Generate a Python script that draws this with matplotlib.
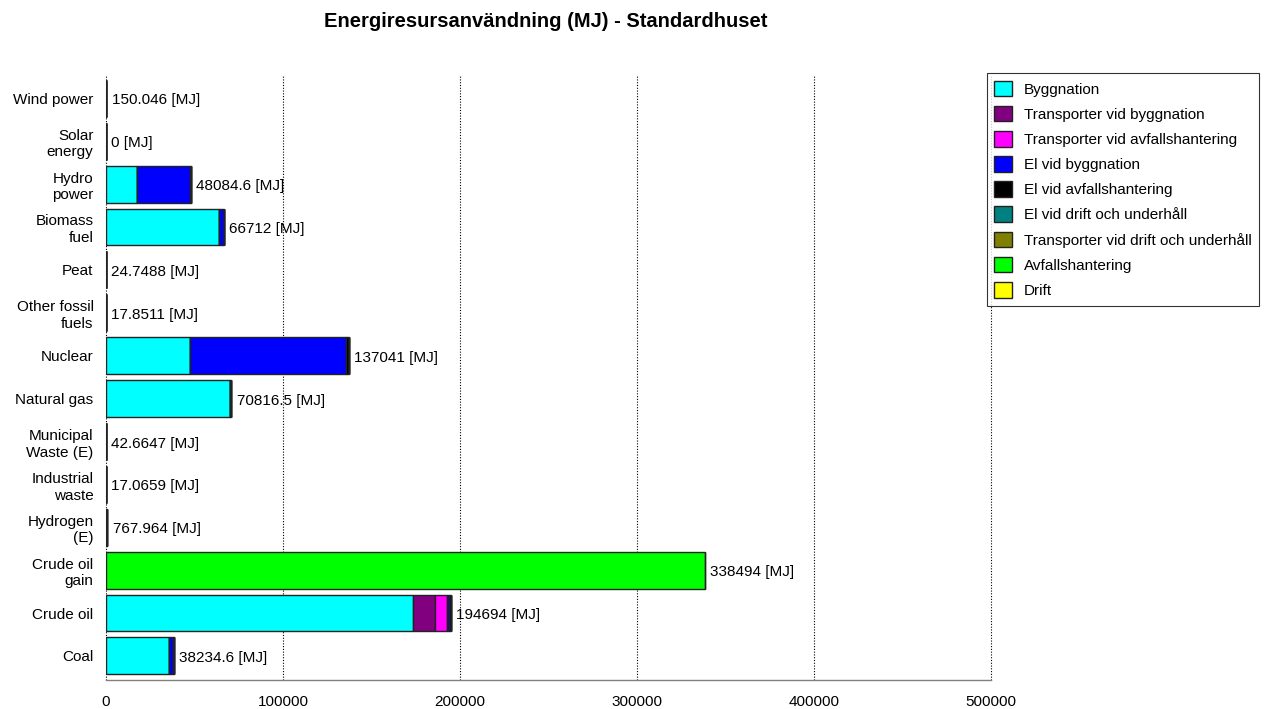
import numpy as np
import matplotlib.pyplot as plt

plt.rcParams['font.family'] = ['Liberation Sans', 'DejaVu Sans']

# Kategorier (uppifrån och ned)
categories = ['Wind power', 'Solar\nenergy', 'Hydro\npower', 'Biomass\nfuel', 'Peat',
              'Other fossil\nfuels', 'Nuclear', 'Natural gas', 'Municipal\nWaste (E)',
              'Industrial\nwaste', 'Hydrogen\n(E)', 'Crude oil\ngain', 'Crude oil', 'Coal']
totals = ['150.046', '0', '48084.6', '66712', '24.7488', '17.8511', '137041', '70816.5',
          '42.6647', '17.0659', '767.964', '338494', '194694', '38234.6']

series_names = ['Byggnation', 'Transporter vid byggnation', 'Transporter vid avfallshantering',
                'El vid byggnation', 'El vid avfallshantering', 'El vid drift och underhåll',
                'Transporter vid drift och underhåll', 'Avfallshantering', 'Drift']
colors = ['#00FFFF', '#800080', '#FF00FF', '#0000FF', '#000000', '#008080', '#808000',
          '#00FF00', '#FFFF00']

byggnation = [0, 0, 17500, 63800, 0, 0, 47500, 69800, 0, 0, 0, 0, 173400, 35600]
transp_bygg = [0, 0, 0, 0, 0, 0, 0, 0, 0, 0, 0, 0, 12400, 0]
transp_avf = [0, 0, 0, 0, 0, 0, 0, 0, 0, 0, 0, 0, 6800, 0]
el_bygg = [0, 0, 30000, 2600, 0, 0, 88000, 300, 0, 0, 0, 0, 1200, 2000]
el_avf = [150.046, 0, 584.6, 312, 24.7488, 17.8511, 1541, 716.5, 42.6647, 17.0659, 268, 0, 894, 634.6]
el_drift = [0, 0, 0, 0, 0, 0, 0, 0, 0, 0, 500, 0, 0, 0]
transp_drift = [0] * 14
avfall = [0, 0, 0, 0, 0, 0, 0, 0, 0, 0, 0, 338494, 0, 0]
drift = [0] * 14

series = [byggnation, transp_bygg, transp_avf, el_bygg, el_avf, el_drift,
          transp_drift, avfall, drift]

fig = plt.figure(figsize=(12.68, 7.09), dpi=100)
ax = fig.add_axes([0.0836, 0.041, 0.698, 0.853])

y = np.arange(len(categories))[::-1]
left = np.zeros(len(categories))
handles = []
for name, vals, c in zip(series_names, series, colors):
    vals = np.array(vals, dtype=float)
    h = ax.barh(y, vals, left=left, height=0.86, color=c, edgecolor='#222222',
                linewidth=1.0, label=name)
    handles.append(h)
    left += vals

for yi, tot, lab in zip(y, left, totals):
    ax.text(tot + 3000, yi - 0.05, lab + ' [MJ]', va='center', ha='left', fontsize=11)

ax.set_xlim(0, 500000)
ax.set_ylim(-0.56, 13.54)
ax.set_yticks(y)
ax.set_yticklabels(categories, fontsize=11, linespacing=1.25)
ax.set_xticks([0, 100000, 200000, 300000, 400000, 500000])
ax.set_xticklabels(['0', '100000', '200000', '300000', '400000', '500000'], fontsize=11)
ax.tick_params(length=0, pad=9)
ax.tick_params(axis='x', pad=11)
ax.xaxis.grid(True, linestyle=(0, (1, 1.5)), color='black', linewidth=0.8)
for gl in ax.get_xgridlines():
    gl.set_clip_on(False)
ax.set_axisbelow(True)
for s in ax.spines.values():
    s.set_visible(False)
ax.spines['bottom'].set_visible(True)
ax.spines['bottom'].set_color('#808080')
ax.spines['bottom'].set_linewidth(1.0)

fig.suptitle('Energiresursanvändning (MJ) - Standardhuset', fontweight='bold',
             fontsize=14.5, x=0.43, y=0.983)

leg = fig.legend(handles=handles, loc='upper left', bbox_to_anchor=(0.778, 0.897),
                 fontsize=11, frameon=True, fancybox=False, edgecolor='black',
                 handlelength=1.2, handleheight=1.2, handletextpad=0.75,
                 labelspacing=0.6, borderpad=0.5, borderaxespad=0)
leg.get_frame().set_linewidth(0.8)

fig.savefig('out.png', dpi=100)
